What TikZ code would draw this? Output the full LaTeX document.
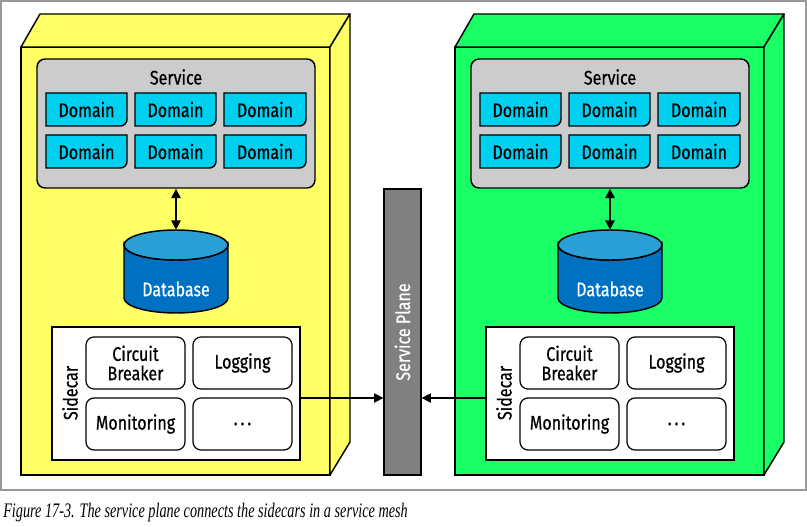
\documentclass[tikz,border=0pt]{standalone}
\usepackage{fontspec}
\usetikzlibrary{arrows.meta,calc}
\newfontfamily\dfont{Fira Sans}[FakeStretch=0.82, FakeBold=0.6]
\newfontfamily\capfont{Liberation Serif}[FakeStretch=0.69]
\definecolor{boxyellow}{HTML}{FFFF66}
\definecolor{boxgreen}{HTML}{1AFF66}
\definecolor{svcgray}{HTML}{CCCCCC}
\definecolor{domcyan}{HTML}{00D0F0}
\definecolor{dbtop}{HTML}{2A9FD6}
\definecolor{dbbody}{HTML}{0070C0}
\definecolor{planegray}{HTML}{808080}
\definecolor{framegray}{HTML}{999999}
\tikzset{
  edge/.style={line width=1.1pt},
  lbl/.style={font=\dfont\fontsize{14.7}{15.5}\selectfont, inner sep=0pt, align=center},
  svcbox/.style={draw, edge, fill=svcgray, rounded corners=6pt, minimum width=208.5pt, minimum height=96.75pt},
  sidebox/.style={draw, line width=0.9pt, fill=white, minimum width=186pt, minimum height=99.75pt},
  itembox/.style={draw, line width=0.9pt, fill=white, rounded corners=6pt, minimum width=74.25pt, minimum height=39pt, lbl},
  dbnode/.style={minimum width=78pt, minimum height=62.25pt, inner sep=0pt},
  planebox/.style={draw, line width=0.9pt, fill=planegray, minimum width=27.75pt, minimum height=214.5pt},
  arr/.style={line width=0.9pt, -{Triangle[length=7pt,width=7pt]}},
  darr/.style={line width=1.1pt, {Triangle[length=7pt,width=7pt]}-{Triangle[length=7pt,width=7pt]}},
}
% domain box: #1 name, #2 cx, #3 cy, #4 half width
\newcommand\domainbox[4]{%
  \draw[edge, fill=domcyan] (#2-#4,#3-16.5) -- (#2+#4,#3-16.5) [rounded corners=5pt] -- (#2+#4,#3+16.5) [sharp corners] -- (#2-#4,#3+16.5) -- cycle;
  \node[lbl] (#1) at (#2,#3) {Domain};
}
% a whole block: #1 xshift, #2 colour, #3 prefix
\newcommand\serviceblock[3]{%
\begin{scope}[xshift=#1]
  \draw[edge, fill=#2] (21,47) rectangle (330,475);
  \draw[edge, fill=#2, line join=round] (21,47) -- (40,14) -- (350,14) -- (330,47) -- cycle;
  \draw[edge, fill=#2, line join=round] (330,47) -- (350,14) -- (350,442) -- (330,475) -- cycle;
  \node[svcbox] (#3svc) at (176,123.5) {};
  \node[lbl] (#3svct) at (176,77) {Service};
  \domainbox{#3d11}{86.5}{109.5}{40.5}
  \domainbox{#3d12}{175.5}{109.5}{40.5}
  \domainbox{#3d13}{265}{109.5}{41}
  \domainbox{#3d21}{86.5}{151.5}{40.5}
  \domainbox{#3d22}{175.5}{151.5}{40.5}
  \domainbox{#3d23}{265}{151.5}{41}
  % database
  \draw[edge, fill=dbbody] (124,245) -- (124,298) arc[start angle=180, end angle=0, x radius=52, y radius=15] -- (228,245) arc[start angle=0, end angle=180, x radius=52, y radius=15] -- cycle;
  \draw[edge, fill=dbtop] (176,245) ellipse[x radius=52, y radius=15];
  \node[dbnode] (#3db) at (176,271.5) {};
  \node[lbl, text=white] (#3dbt) at (176,289) {Database};
  \draw[darr] (#3svc.south) -- (#3db.north);
  % sidecar
  \node[sidebox] (#3sc) at (176,393.5) {};
  \node[lbl, rotate=90] (#3sct) at (70,393) {Sidecar};
  \node[itembox] (#3cb) at (135.5,363) {Circuit\\[-1pt]Breaker};
  \node[itembox] (#3log) at (242.5,363) {Logging};
  \node[itembox] (#3mon) at (135.5,424) {Monitoring};
  \node[itembox] (#3dots) at (242.5,424) {.\hspace{2.2pt}.\hspace{2.2pt}.};
\end{scope}}
\begin{document}
\begin{tikzpicture}[x=0.75pt, y=-0.75pt]
  \useasboundingbox (0,0) rectangle (807,527);
  \draw[framegray, line width=0.9pt] (1,1) rectangle (806,490);
  \serviceblock{0pt}{boxyellow}{L}
  \serviceblock{325.5pt}{boxgreen}{R}
  \node[planebox] (plane) at (402.5,332) {};
  \node[lbl, text=white, rotate=90] (planet) at (402.5,332) {Service Plane};
  \draw[arr] (Lsc.east |- 0,398) -- (plane.west |- 0,398);
  \draw[arr] (Rsc.west |- 0,398) -- (plane.east |- 0,398);
  \node[anchor=base west, inner sep=0pt, font=\capfont\itshape\fontsize{15.5}{17}\selectfont] (cap) at (3,517) {Figure 17-3. The service plane connects the sidecars in a service mesh};
\end{tikzpicture}
\end{document}
